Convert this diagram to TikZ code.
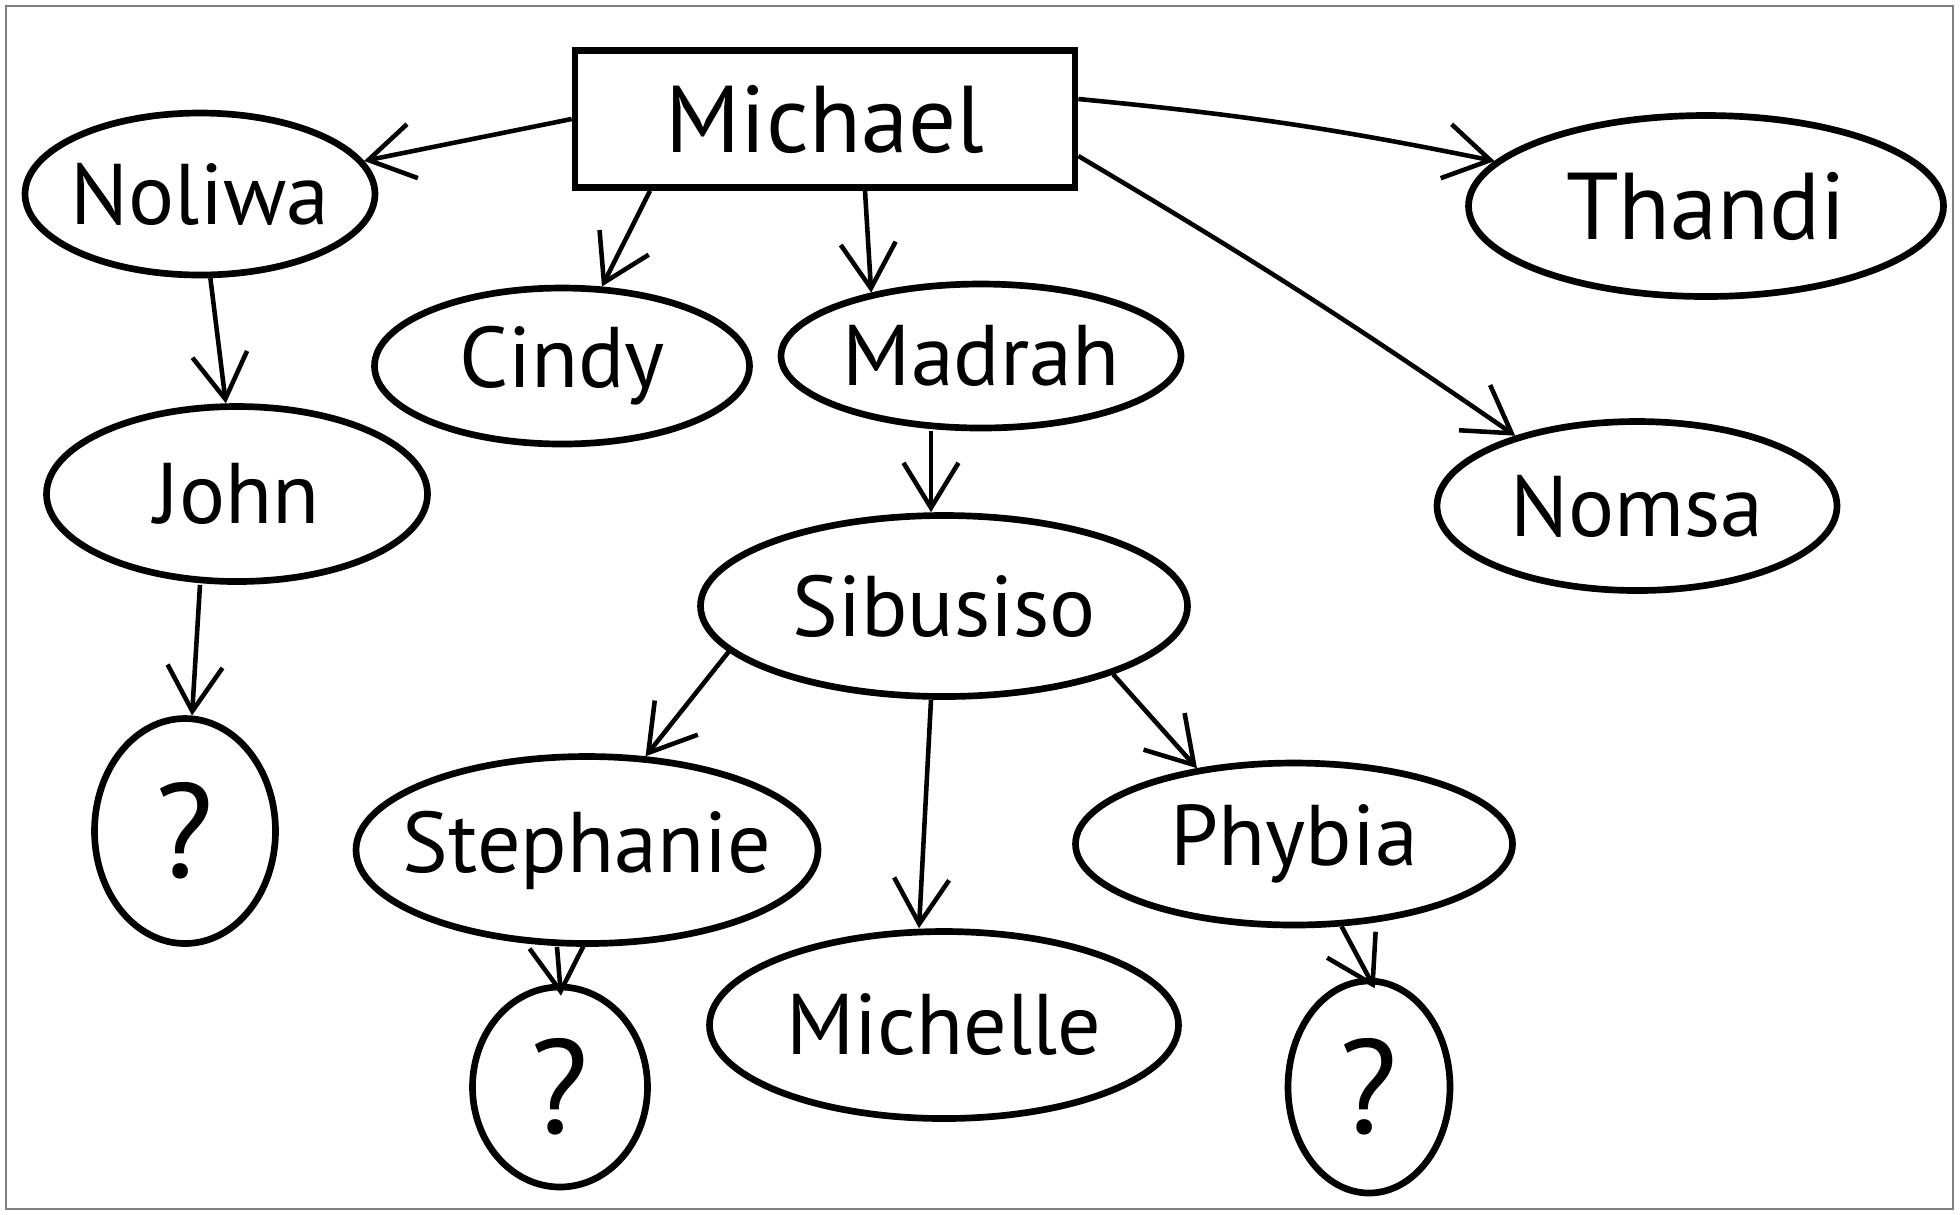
\documentclass[tikz,border=0pt]{standalone}
\usepackage{fontspec}
\setmainfont{PT Sans}
\usepackage{tikz}
\usetikzlibrary{positioning,shapes,arrows.meta,calc}
\newcommand{\namefont}{\fontsize{24.5}{28}\selectfont}
\newcommand{\bigfont}{\fontsize{27}{30}\selectfont}
\newcommand{\qfont}{\fontsize{38}{40}\selectfont}
\tikzset{
  basic/.style  = {draw, line width=1.9pt, inner ysep=0pt},
  head/.style   = {basic, rectangle, font=\bigfont, minimum width=5cm,
                   minimum height=1.37cm},
  person/.style = {basic, ellipse, inner xsep=-1cm, font=\namefont},
  unknown/.style = {basic, ellipse, inner xsep=-0.5cm, font=\qfont},
  edge/.style={-{Straight Barb[length=4.5mm,width=5.5mm]}, line width=1.3pt}
}

\begin{document}
\begin{tikzpicture}
    \useasboundingbox (0,0) rectangle (19.6,-12.14);
    \draw[gray, line width=0.6pt] (0.06,-0.06) rectangle (19.53,-12.09);
    % top row
    \node[head] (michael) at (8.25,-1.19) {Michael};
    \node[person, minimum width=3.5cm, minimum height=1.62cm] (noliwa) at (2.00,-1.94) {Noliwa};
    \node[person, minimum width=3.75cm, minimum height=1.56cm] (cindy) at (5.62,-3.66) {Cindy};
    \node[person, minimum width=4.00cm, minimum height=1.44cm] (madrah) at (9.81,-3.56) {Madrah};
    \node[person, font=\bigfont, minimum width=4.75cm, minimum height=1.81cm] (thandi) at (17.06,-2.06) {Thandi};
    \node[person, minimum width=4.00cm, minimum height=1.69cm] (nomsa) at (16.37,-5.06) {Nomsa};
    % second generation
    \node[person, minimum width=3.81cm, minimum height=1.75cm] (john) at (2.37,-4.94) {John};
    \node[person, minimum width=4.87cm, minimum height=1.81cm] (sibusiso) at (9.44,-6.06) {Sibusiso};
    \node[person, minimum width=4.62cm, minimum height=1.87cm] (stephanie) at (5.87,-8.50) {Stephanie};
    \node[person, minimum width=4.69cm, minimum height=1.87cm] (michelle) at (9.44,-10.25) {Michelle};
    \node[person, minimum width=4.37cm, minimum height=1.62cm] (phybia) at (12.94,-8.44) {Phybia};
    % unknown ones
    \node[unknown, minimum width=1.81cm, minimum height=2.25cm] (q1) at (1.85,-8.31) {?};
    \node[unknown, minimum width=1.75cm, minimum height=2.00cm] (q2) at (5.60,-10.87) {?};
    \node[unknown, minimum width=1.62cm, minimum height=2.12cm] (q3) at (13.69,-10.87) {?};

    \draw[edge] (michael.west) -- (noliwa);
    \draw[edge] ([xshift=-1.75cm]michael.south) -- (cindy);
    \draw[edge] ([xshift=0.4cm]michael.south) -- (madrah.150);
    \draw[edge] ([yshift=0.2cm]michael.east) to[bend left=3] (thandi.168);
    \draw[edge] ([yshift=-0.37cm]michael.east) to[bend left=2] (nomsa.150);
    \draw[edge] (noliwa) -- (john);
    \draw[edge] ([xshift=-0.37cm]john.south) -- (q1);
    \draw[edge] ([xshift=-0.5cm]madrah.south) -- ([xshift=-0.13cm]sibusiso.north);
    \draw[edge] (sibusiso.192) -- (stephanie.58);
    \draw[edge] ([xshift=-0.13cm]sibusiso.south) -- ([xshift=-0.25cm]michelle.north);
    \draw[edge] (sibusiso.338) -- (phybia.142);
    \draw[edge, shorten >=-0.12cm] ([xshift=-0.3cm]stephanie.south) -- (q2.north);
    \draw[edge, shorten >=-0.12cm] (phybia.300) -- (q3.north);
  \end{tikzpicture}
\end{document}
